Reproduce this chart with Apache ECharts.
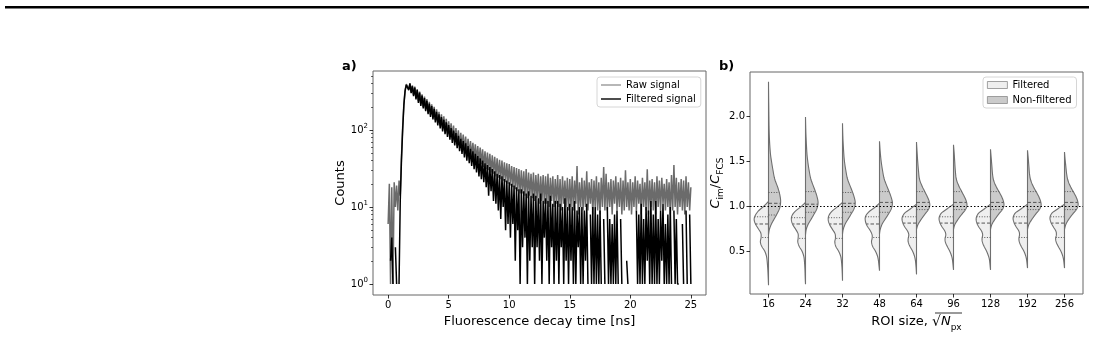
<!DOCTYPE html>
<html>
<head>
<meta charset="utf-8">
<script src="https://cdn.jsdelivr.net/npm/echarts@6/dist/echarts.min.js"></script>
<style>
html,body{margin:0;padding:0;background:#fff;}
#chart{width:1093px;height:337px;}
</style>
</head>
<body>
<div id="chart"></div>
<script>
// ---------- Panel a: fluorescence decay ----------
const timeNs = [0,0.1,0.2,0.3,0.4,0.5,0.6,0.7,0.8,0.9,1,1.1,1.2,1.3,1.4,1.5,1.6,1.7,1.8,1.9,
2,2.1,2.2,2.3,2.4,2.5,2.6,2.7,2.8,2.9,3,3.1,3.2,3.3,3.4,3.5,3.6,3.7,3.8,3.9,
4,4.1,4.2,4.3,4.4,4.5,4.6,4.7,4.8,4.9,5,5.1,5.2,5.3,5.4,5.5,5.6,5.7,5.8,5.9,
6,6.1,6.2,6.3,6.4,6.5,6.6,6.7,6.8,6.9,7,7.1,7.2,7.3,7.4,7.5,7.6,7.7,7.8,7.9,
8,8.1,8.2,8.3,8.4,8.5,8.6,8.7,8.8,8.9,9,9.1,9.2,9.3,9.4,9.5,9.6,9.7,9.8,9.9,
10,10.1,10.2,10.3,10.4,10.5,10.6,10.7,10.8,10.9,11,11.1,11.2,11.3,11.4,11.5,11.6,11.7,11.8,11.9,
12,12.1,12.2,12.3,12.4,12.5,12.6,12.7,12.8,12.9,13,13.1,13.2,13.3,13.4,13.5,13.6,13.7,13.8,13.9,
14,14.1,14.2,14.3,14.4,14.5,14.6,14.7,14.8,14.9,15,15.1,15.2,15.3,15.4,15.5,15.6,15.7,15.8,15.9,
16,16.1,16.2,16.3,16.4,16.5,16.6,16.7,16.8,16.9,17,17.1,17.2,17.3,17.4,17.5,17.6,17.7,17.8,17.9,
18,18.1,18.2,18.3,18.4,18.5,18.6,18.7,18.8,18.9,19,19.1,19.2,19.3,19.4,19.5,19.6,19.7,19.8,19.9,
20,20.1,20.2,20.3,20.4,20.5,20.6,20.7,20.8,20.9,21,21.1,21.2,21.3,21.4,21.5,21.6,21.7,21.8,21.9,
22,22.1,22.2,22.3,22.4,22.5,22.6,22.7,22.8,22.9,23,23.1,23.2,23.3,23.4,23.5,23.6,23.7,23.8,23.9,
24,24.1,24.2,24.3,24.4,24.5,24.6,24.7,24.8,24.9,25];

const rawCounts = [6,20,1,18,1,21,10,19,9,22,14,
45,110,220,330,395,410,340,405,310,
380,285,365,262,340,236,315,215,290,200,
272,185,252,168,232,157,216,146,200,135,
185,124,172,114,160,105,150,97,140,90,
130,84,122,78,114,72,106,67,99,62,
92,59,87,55,82,51,77,48,72,45,
68,43,65,40,62,38,59,36,56,33,
53,31,51,30,49,28,47,27,45,25,
43,24,41,23,40,22,38,21,37,20,
36,19,34,18,33,17,32,16,31,15,
30,15,29,14,31,13,28,14,27,13,
28,12,26,13,27,11,25,12,26,11,
25,11,27,10,24,12,25,10,23,11,
26,10,23,9,25,11,22,10,24,9,
23,10,25,9,22,11,34,8,21,10,
24,9,22,10,29,9,21,11,23,8,
22,10,25,9,21,8,24,10,33,9,
27,9,21,10,23,8,22,11,25,9,
21,10,24,8,22,9,30,10,21,9,
23,8,21,10,25,9,22,11,20,8,
24,10,21,9,31,8,22,10,23,9,
21,8,25,10,22,9,24,11,20,9,
23,10,21,8,26,9,35,10,24,8,
21,10,23,9,22,8,25,10,21,9,
18];

const filteredCounts = [null,null,2,4,1,null,3,1,null,1,12,
40,100,210,320,385,405,330,400,300,
370,275,355,250,330,225,305,205,280,190,
260,175,240,160,220,148,205,137,188,125,
172,115,160,105,147,96,136,88,126,81,
116,75,106,68,98,63,91,58,84,53,
77,49,72,44,67,40,62,37,57,34,
53,31,49,28,46,25,43,23,40,21,
37,18,35,14,33,16,31,12,29,11,
27,9,26,7,25,10,23,5,22,6,
21,4,20,6,19,2,18,5,17,1,
17,3,16,4,15,1,16,2,14,3,
15,1,14,3,13,2,15,1,12,4,
13,2,12,1,14,3,11,1,12,2,
12,1,11,3,10,1,13,2,10,1,
11,2,10,1,12,1,9,3,10,1,
10,1,9,2,11,1,null,8,1,10,
1,10,1,8,1,9,1,null,7,1,
null,10,1,7,1,6,1,8,1,9,
1,null,7,1,null,null,null,2,1,null,
null,null,1,null,null,9,1,8,1,11,
1,7,1,10,2,9,1,12,1,8,
1,12,1,7,1,9,2,11,1,6,
1,8,1,10,1,null,9,1,7,1,
1,null,null,6,1,null,9,1,null,8,
1];

const decayTicks = [0,5,10,15,20,25];
const logMajorTicks = [0,1,2];           // exponents: 10^0, 10^1, 10^2
const minorMantissas = [2,3,4,5,6,7,8,9];

// ---------- Panel b: split violins ----------
const roiSizes = ['16','24','32','48','64','96','128','192','256'];
const ratioTicks = [0.5,1.0,1.5,2.0];

// [value, relative density] (left half: Filtered)
const filteredProfiles = [
 [[1.05,0],[1.0,0.3],[0.95,0.65],[0.90,0.88],[0.85,0.97],[0.80,0.88],[0.75,0.7],[0.70,0.52],[0.65,0.5],[0.60,0.55],[0.55,0.45],[0.50,0.26],[0.45,0.15],[0.40,0.1],[0.30,0.05],[0.20,0.02],[0.12,0]],
 [[1.04,0],[0.99,0.32],[0.94,0.7],[0.89,0.92],[0.84,0.95],[0.79,0.85],[0.74,0.66],[0.69,0.5],[0.64,0.5],[0.60,0.52],[0.55,0.42],[0.50,0.24],[0.45,0.13],[0.40,0.08],[0.30,0.04],[0.20,0.02],[0.13,0]],
 [[1.04,0],[0.99,0.35],[0.94,0.72],[0.89,0.93],[0.84,0.96],[0.79,0.86],[0.74,0.68],[0.69,0.5],[0.64,0.48],[0.60,0.52],[0.55,0.45],[0.50,0.27],[0.45,0.14],[0.40,0.08],[0.30,0.03],[0.17,0]],
 [[1.03,0],[0.98,0.35],[0.93,0.75],[0.88,0.95],[0.83,0.95],[0.78,0.84],[0.73,0.64],[0.68,0.5],[0.64,0.5],[0.60,0.54],[0.55,0.46],[0.50,0.28],[0.45,0.15],[0.40,0.08],[0.28,0]],
 [[1.02,0],[0.97,0.4],[0.92,0.8],[0.87,0.97],[0.82,0.94],[0.77,0.8],[0.72,0.6],[0.68,0.52],[0.64,0.56],[0.60,0.56],[0.55,0.44],[0.50,0.27],[0.45,0.15],[0.40,0.08],[0.32,0.03],[0.24,0]],
 [[1.02,0],[0.97,0.42],[0.92,0.82],[0.87,0.97],[0.82,0.93],[0.77,0.78],[0.72,0.58],[0.68,0.52],[0.64,0.57],[0.60,0.55],[0.55,0.42],[0.50,0.26],[0.45,0.14],[0.40,0.07],[0.29,0]],
 [[1.02,0],[0.97,0.4],[0.92,0.8],[0.87,0.96],[0.82,0.94],[0.77,0.8],[0.72,0.6],[0.68,0.53],[0.64,0.57],[0.60,0.55],[0.55,0.43],[0.50,0.27],[0.45,0.15],[0.40,0.07],[0.29,0]],
 [[1.02,0],[0.97,0.42],[0.92,0.83],[0.87,0.97],[0.82,0.92],[0.77,0.77],[0.72,0.58],[0.68,0.54],[0.64,0.58],[0.60,0.55],[0.55,0.42],[0.50,0.25],[0.45,0.13],[0.40,0.06],[0.31,0]],
 [[1.02,0],[0.97,0.44],[0.92,0.85],[0.87,0.98],[0.82,0.92],[0.77,0.76],[0.72,0.58],[0.68,0.55],[0.64,0.6],[0.60,0.56],[0.55,0.42],[0.50,0.25],[0.45,0.13],[0.40,0.06],[0.31,0]]
];
// right half: Non-filtered
const nonFilteredProfiles = [
 [[2.38,0],[2.1,0.02],[1.8,0.05],[1.6,0.12],[1.5,0.2],[1.4,0.3],[1.3,0.42],[1.2,0.64],[1.12,0.77],[1.05,0.82],[0.98,0.76],[0.92,0.6],[0.86,0.4],[0.80,0.2],[0.74,0.06],[0.68,0]],
 [[1.99,0],[1.8,0.03],[1.6,0.09],[1.5,0.15],[1.4,0.24],[1.3,0.36],[1.2,0.58],[1.12,0.75],[1.04,0.85],[0.97,0.77],[0.91,0.58],[0.85,0.37],[0.80,0.19],[0.74,0.05],[0.68,0]],
 [[1.92,0],[1.75,0.03],[1.6,0.08],[1.5,0.13],[1.4,0.22],[1.3,0.34],[1.2,0.57],[1.12,0.75],[1.04,0.86],[0.97,0.78],[0.91,0.58],[0.85,0.36],[0.80,0.18],[0.74,0.05],[0.69,0]],
 [[1.72,0],[1.6,0.05],[1.5,0.11],[1.4,0.2],[1.3,0.32],[1.2,0.55],[1.12,0.74],[1.04,0.87],[0.97,0.8],[0.91,0.6],[0.85,0.37],[0.80,0.18],[0.74,0.05],[0.69,0]],
 [[1.71,0],[1.6,0.04],[1.5,0.08],[1.4,0.13],[1.3,0.2],[1.22,0.38],[1.14,0.62],[1.07,0.82],[1.01,0.9],[0.96,0.8],[0.92,0.62],[0.88,0.44],[0.84,0.27],[0.79,0.09],[0.74,0]],
 [[1.68,0],[1.6,0.04],[1.5,0.08],[1.4,0.12],[1.3,0.19],[1.22,0.37],[1.14,0.62],[1.07,0.83],[1.01,0.91],[0.96,0.81],[0.92,0.62],[0.88,0.43],[0.84,0.26],[0.79,0.08],[0.74,0]],
 [[1.63,0],[1.55,0.04],[1.45,0.09],[1.35,0.14],[1.28,0.22],[1.21,0.4],[1.14,0.64],[1.07,0.84],[1.01,0.91],[0.96,0.8],[0.92,0.6],[0.88,0.42],[0.84,0.25],[0.79,0.08],[0.74,0]],
 [[1.62,0],[1.55,0.04],[1.45,0.09],[1.35,0.14],[1.28,0.23],[1.21,0.41],[1.14,0.65],[1.07,0.85],[1.01,0.92],[0.96,0.8],[0.92,0.6],[0.88,0.42],[0.84,0.25],[0.79,0.08],[0.74,0]],
 [[1.60,0],[1.52,0.04],[1.44,0.09],[1.35,0.15],[1.28,0.24],[1.21,0.42],[1.14,0.66],[1.07,0.86],[1.01,0.92],[0.96,0.8],[0.92,0.6],[0.88,0.41],[0.84,0.24],[0.79,0.08],[0.74,0]]
];
// [q1, median, q3]
const filteredQuartiles = [[0.65,0.80,0.88],[0.64,0.80,0.87],[0.64,0.80,0.87],[0.65,0.80,0.88],[0.65,0.81,0.88],[0.65,0.81,0.88],[0.65,0.81,0.88],[0.65,0.81,0.88],[0.65,0.81,0.88]];
const nonFilteredQuartiles = [[0.90,1.03,1.15],[0.93,1.02,1.16],[0.93,1.03,1.15],[0.93,1.04,1.16],[0.96,1.04,1.16],[0.96,1.04,1.16],[0.96,1.04,1.16],[0.96,1.04,1.16],[0.96,1.04,1.16]];

// ---------- build ----------
const FONT = 'DejaVu Sans';
function toLogPoint(t, v) { return (v === null || v <= 0) ? [t, '-'] : [t, Math.log10(v)]; }
const rawData = timeNs.map((t, i) => toLogPoint(t, rawCounts[i]));
const filtData = timeNs.map((t, i) => toLogPoint(t, filteredCounts[i]));
const minorLog = [];
logMajorTicks.forEach(e => minorMantissas.forEach(m => minorLog.push(e + Math.log10(m))));

function catmull(pts, n) {
  const out = [];
  for (let i = 0; i < pts.length - 1; i++) {
    const p0 = pts[Math.max(i - 1, 0)], p1 = pts[i], p2 = pts[i + 1], p3 = pts[Math.min(i + 2, pts.length - 1)];
    for (let k = 0; k < n; k++) {
      const t = k / n, t2 = t * t, t3 = t2 * t;
      const f = (a, b, c, d) => 0.5 * ((2 * b) + (-a + c) * t + (2 * a - 5 * b + 4 * c - d) * t2 + (-a + 3 * b - 3 * c + d) * t3);
      out.push([f(p0[0], p1[0], p2[0], p3[0]), f(p0[1], p1[1], p2[1], p3[1])]);
    }
  }
  out.push(pts[pts.length - 1]);
  return out;
}
function widthAt(prof, y) {
  for (let i = 0; i < prof.length - 1; i++) {
    const a = prof[i], b = prof[i + 1];
    if ((y <= a[0] && y >= b[0])) {
      const f = (a[0] - y) / (a[0] - b[0]);
      return a[1] + (b[1] - a[1]) * f;
    }
  }
  return 0;
}
function violinRenderer(profiles, quarts, side, fill) {
  return function (params, api) {
    const i = params.dataIndex;
    const cat = api.value(0);
    const band = api.size([1, 0])[0];
    const maxHalf = band * 0.4;
    const prof = profiles[i];
    const cx = api.coord([cat, 1])[0];
    const pts = prof.map(p => [cx + side * p[1] * maxHalf, api.coord([cat, p[0]])[1]]);
    let curve = catmull(pts, 6).map(p => [side > 0 ? Math.max(p[0], cx) : Math.min(p[0], cx), p[1]]);
    const poly = [[cx, pts[0][1]]].concat(curve, [[cx, pts[pts.length - 1][1]]]);
    const children = [{
      type: 'polygon', shape: { points: poly },
      style: { fill: fill, stroke: '#6f6f6f', lineWidth: 1.1 }
    }];
    quarts[i].forEach((q, k) => {
      const y = api.coord([cat, q])[1];
      const w = widthAt(prof, q) * maxHalf;
      children.push({
        type: 'line', shape: { x1: cx, y1: y, x2: cx + side * w, y2: y },
        style: { stroke: '#555', lineWidth: 1, lineDash: k === 1 ? [3.5, 2] : [1, 1.6] }
      });
    });
    return { type: 'group', children: children };
  };
}

const chart = echarts.init(document.getElementById('chart'), null, { renderer: 'canvas' });
const tickLabelStyle = { fontFamily: FONT, fontSize: 10, color: '#000' };
const hiddenLine = { show: false, onZero: false };
const option = {
  animation: false,
  backgroundColor: '#fff',
  textStyle: { fontFamily: FONT },
  graphic: [
    { type: 'rect', shape: { x: 5, y: 6, width: 1084, height: 2.5 }, style: { fill: '#000' } },
    { type: 'text', left: 342, top: 60, style: { text: 'a)', font: 'bold 13px "DejaVu Sans"', fill: '#000' } },
    { type: 'text', left: 719, top: 60, style: { text: 'b)', font: 'bold 13px "DejaVu Sans"', fill: '#000' } },
    { type: 'line', shape: { x1: 935, y1: 313, x2: 962, y2: 313 }, style: { stroke: '#000', lineWidth: 0.8 } }
  ],
  grid: [
    { left: 373, top: 71, width: 333, height: 224, show: true, borderColor: '#666', borderWidth: 1, backgroundColor: 'transparent' },
    { left: 750, top: 72, width: 333, height: 222, show: true, borderColor: '#666', borderWidth: 1, backgroundColor: 'transparent' }
  ],
  legend: [
    {
      left: 597, top: 77, orient: 'vertical', itemWidth: 20, itemHeight: 10, itemGap: 4,
      padding: [3, 5, 3, 4], backgroundColor: 'rgba(255,255,255,0.85)', borderColor: '#d6d6d6', borderWidth: 1, borderRadius: 3,
      textStyle: { fontFamily: FONT, fontSize: 10, color: '#000' },
      data: [
        { name: 'Raw signal', icon: 'path://M0,4.3L20,4.3L20,5.7L0,5.7Z', itemStyle: { color: '#999' } },
        { name: 'Filtered signal', icon: 'path://M0,4.3L20,4.3L20,5.7L0,5.7Z', itemStyle: { color: '#000' } }
      ]
    },
    {
      left: 983, top: 77, orient: 'vertical', itemWidth: 20, itemHeight: 7, itemGap: 5,
      padding: [3, 5, 3, 4], backgroundColor: 'rgba(255,255,255,0.85)', borderColor: '#d6d6d6', borderWidth: 1, borderRadius: 3,
      textStyle: { fontFamily: FONT, fontSize: 10, color: '#000' },
      data: [
        { name: 'Filtered', icon: 'rect', itemStyle: { color: '#efefef', borderColor: '#8a8a8a', borderWidth: 0.8 } },
        { name: 'Non-filtered', icon: 'rect', itemStyle: { color: '#cbcbcb', borderColor: '#8a8a8a', borderWidth: 0.8 } }
      ]
    }
  ],
  xAxis: [
    {
      type: 'value', gridIndex: 0, min: -1.25, max: 26.25,
      name: 'Fluorescence decay time [ns]', nameLocation: 'middle', nameGap: 14,
      nameTextStyle: { fontFamily: FONT, fontSize: 13, color: '#000' },
      axisLine: hiddenLine, splitLine: { show: false },
      axisTick: { show: true, length: 3.5, lineStyle: { color: '#000', width: 0.8 }, customValues: decayTicks },
      axisLabel: Object.assign({ margin: 5, customValues: decayTicks, formatter: v => String(v) }, tickLabelStyle)
    },
    {
      type: 'category', gridIndex: 1, data: roiSizes, boundaryGap: true,
      name: 'ROI size, {r|√}{i|N}{s|px}', nameLocation: 'middle', nameGap: 16,
      nameTextStyle: {
        fontFamily: FONT, fontSize: 13, color: '#000', lineHeight: 16,
        rich: {
          r: { fontFamily: FONT, fontSize: 14, lineHeight: 16 },
          i: { fontFamily: FONT, fontSize: 13, fontStyle: 'italic', lineHeight: 16 },
          s: { fontFamily: FONT, fontSize: 9, verticalAlign: 'bottom', lineHeight: 12, padding: [0, 0, -2, 0] }
        }
      },
      axisLine: hiddenLine, splitLine: { show: false },
      axisTick: { show: true, alignWithLabel: true, length: 3.5, lineStyle: { color: '#000', width: 0.8 } },
      axisLabel: Object.assign({ margin: 5 }, tickLabelStyle)
    }
  ],
  yAxis: [
    {
      type: 'value', gridIndex: 0, min: -0.143, max: 2.766,
      name: 'Counts', nameLocation: 'middle', nameGap: 26,
      nameTextStyle: { fontFamily: FONT, fontSize: 13, color: '#000' },
      axisLine: hiddenLine, splitLine: { show: false },
      axisTick: { show: true, length: 3.5, lineStyle: { color: '#000', width: 0.8 }, customValues: logMajorTicks },
      axisLabel: {
        margin: 5, customValues: logMajorTicks,
        formatter: v => '{b|10}{p|' + Math.round(v) + '}',
        rich: {
          b: { fontFamily: FONT, fontSize: 10, color: '#000', lineHeight: 14 },
          p: { fontFamily: FONT, fontSize: 7, color: '#000', verticalAlign: 'top', lineHeight: 9 }
        }
      }
    },
    {
      type: 'value', gridIndex: 0, min: -0.143, max: 2.766, position: 'left',
      axisLine: hiddenLine, splitLine: { show: false }, axisLabel: { show: false },
      axisTick: { show: true, length: 2, lineStyle: { color: '#000', width: 0.6 }, customValues: minorLog }
    },
    {
      type: 'value', gridIndex: 1, min: 0.022, max: 2.489,
      name: '{i|C}{s|im}/{i|C}{s|FCS}', nameLocation: 'middle', nameGap: 21,
      nameTextStyle: {
        fontFamily: FONT, fontSize: 13, color: '#000', lineHeight: 16,
        rich: {
          i: { fontFamily: FONT, fontSize: 13, fontStyle: 'italic', lineHeight: 16 },
          s: { fontFamily: FONT, fontSize: 9, verticalAlign: 'bottom', lineHeight: 12, padding: [0, 0, -2, 0] }
        }
      },
      axisLine: hiddenLine, splitLine: { show: false },
      axisTick: { show: true, length: 3.5, lineStyle: { color: '#000', width: 0.8 }, customValues: ratioTicks },
      axisLabel: Object.assign({ margin: 5, customValues: ratioTicks, formatter: v => v.toFixed(1) }, tickLabelStyle)
    }
  ],
  series: [
    {
      name: 'Raw signal', type: 'line', xAxisIndex: 0, yAxisIndex: 0, data: rawData,
      showSymbol: false, symbol: 'none', connectNulls: false, clip: true,
      lineStyle: { color: '#6b6b6b', width: 1.5 }, itemStyle: { color: '#8c8c8c' }
    },
    {
      name: 'Filtered signal', type: 'line', xAxisIndex: 0, yAxisIndex: 0, data: filtData,
      showSymbol: false, symbol: 'none', connectNulls: false, clip: true,
      lineStyle: { color: '#000', width: 1.5 }, itemStyle: { color: '#000' }
    },
    {
      name: 'Filtered', type: 'custom', xAxisIndex: 1, yAxisIndex: 2, clip: true,
      data: roiSizes.map((c, i) => [i, filteredProfiles[i][filteredProfiles[i].length - 1][0], filteredProfiles[i][0][0]]),
      encode: { x: 0, y: [1, 2] },
      itemStyle: { color: '#efefef' },
      renderItem: violinRenderer(filteredProfiles, filteredQuartiles, -1, '#efefef')
    },
    {
      name: 'Non-filtered', type: 'custom', xAxisIndex: 1, yAxisIndex: 2, clip: true,
      data: roiSizes.map((c, i) => [i, nonFilteredProfiles[i][nonFilteredProfiles[i].length - 1][0], nonFilteredProfiles[i][0][0]]),
      encode: { x: 0, y: [1, 2] },
      itemStyle: { color: '#cbcbcb' },
      renderItem: violinRenderer(nonFilteredProfiles, nonFilteredQuartiles, 1, '#cbcbcb'),
      markLine: {
        silent: true, symbol: 'none', label: { show: false },
        lineStyle: { color: '#000', type: [1.5, 2], width: 1 },
        data: [{ yAxis: 1.0 }]
      }
    }
  ]
};
chart.setOption(option);
</script>
</body>
</html>
